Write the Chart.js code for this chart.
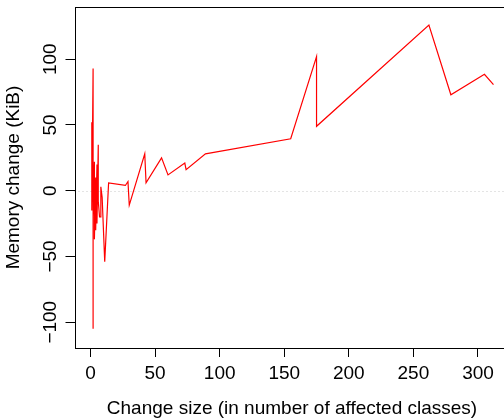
<!DOCTYPE html>
<html>
<head>
<meta charset="utf-8">
<script src="https://cdn.jsdelivr.net/npm/chart.js@4/dist/chart.umd.min.js"></script>
<style>
  html, body { margin: 0; padding: 0; background: #fff; overflow: hidden; }
  #wrap { width: 520px; height: 420px; }
</style>
</head>
<body>
<div id="wrap"><canvas id="memChart" width="520" height="420"></canvas></div>
<script>
// change size (number of affected classes) and memory change (KiB)
var changeSize = [1, 1, 2, 2, 2, 3, 3, 4, 4, 5, 5, 6, 6, 7, 8, 8, 9, 11, 14,
  27, 29, 30, 42, 43, 55, 60, 73, 74, 89, 155, 175, 175, 262, 279, 305, 312];
var memChange = [52, -15, 93, -105, -20, 22, -37, 10, -30, 20, -25, 35, -8, -20, -20, 3, -5, -54, 6,
  4, 7, -11, 28, 6, 25, 12, 21, 16, 28, 39.5, 102, 49, 126, 73, 88.5, 80.6];

var xTicks = [0, 50, 100, 150, 200, 250, 300];
var yTicks = [-100, -50, 0, 50, 100];

var points = changeSize.map(function(x, i) { return {x: x, y: memChange[i]} });

var FONT = "'Liberation Sans', Arial, Helvetica, sans-serif";
var minus = function(v) { return String(v).replace('-', '\u2212') };

// R style box, dotted zero line and rotated y tick labels
var rStyle = {
  id: 'rStyle',
  beforeDatasetsDraw: function(chart) {
    var ctx = chart.ctx, a = chart.chartArea, ys = chart.scales.y;
    var y0 = Math.round(ys.getPixelForValue(0)) + 0.5;
    ctx.save();
    ctx.strokeStyle = '#c8c8c8';
    ctx.lineWidth = 1;
    ctx.setLineDash([1, 3]);
    ctx.beginPath();
    ctx.moveTo(a.left, y0);
    ctx.lineTo(a.right, y0);
    ctx.stroke();
    ctx.restore();
  },
  afterDraw: function(chart) {
    var ctx = chart.ctx, a = chart.chartArea, ys = chart.scales.y;
    ctx.save();
    ctx.strokeStyle = '#000';
    ctx.lineWidth = 1;
    ctx.strokeRect(Math.round(a.left) + 0.5, Math.round(a.top) + 0.5,
      Math.round(a.right - a.left), Math.round(a.bottom - a.top));
    ctx.fillStyle = '#000';
    ctx.font = '19px ' + FONT;
    ctx.textAlign = 'center';
    ctx.textBaseline = 'alphabetic';
    ys.ticks.forEach(function(t) {
      var py = ys.getPixelForValue(t.value);
      ctx.save();
      ctx.translate(a.left - 19, py);
      ctx.rotate(-Math.PI / 2);
      ctx.fillText(minus(t.value), 0, 0);
      ctx.restore();
    });
    ctx.restore();
  }
};

new Chart(document.getElementById('memChart'), {
  type: 'line',
  data: {
    datasets: [{
      data: points,
      borderColor: '#ff0000',
      borderWidth: 1.2,
      pointRadius: 0,
      tension: 0,
      fill: false
    }]
  },
  options: {
    responsive: false,
    animation: false,
    layout: { padding: { top: 7, right: 10.5, left: 0, bottom: 0 } },
    plugins: { legend: { display: false }, tooltip: { enabled: false } },
    scales: {
      x: {
        type: 'linear',
        min: -12.4,
        max: 324.4,
        afterBuildTicks: function(s) { s.ticks = xTicks.map(function(v) { return {value: v} }) },
        afterFit: function(s) { s.height = 72; s.paddingLeft = 0; s.paddingRight = 0 },
        grid: { drawOnChartArea: false, tickLength: 9, tickColor: '#000', lineWidth: 1 },
        border: { display: false },
        ticks: { color: '#000', font: { family: FONT, size: 19 }, padding: 5, maxRotation: 0, callback: minus },
        title: { display: true, text: 'Change size (in number of affected classes)', color: '#000',
          font: { family: FONT, size: 19 }, padding: { top: 0, bottom: 0 } }
      },
      y: {
        type: 'linear',
        min: -119.6,
        max: 139.7,
        afterBuildTicks: function(s) { s.ticks = yTicks.map(function(v) { return {value: v} }) },
        afterFit: function(s) { s.width = 74.5; s.paddingTop = 0; s.paddingBottom = 0 },
        grid: { drawOnChartArea: false, tickLength: 9, tickColor: '#000', lineWidth: 1 },
        border: { display: false },
        ticks: { color: 'rgba(0,0,0,0)', font: { family: FONT, size: 19 } },
        title: { display: true, text: 'Memory change (KiB)', color: '#000',
          font: { family: FONT, size: 19 }, padding: { top: 2, bottom: 0 } }
      }
    }
  },
  plugins: [rStyle]
});
</script>
</body>
</html>
